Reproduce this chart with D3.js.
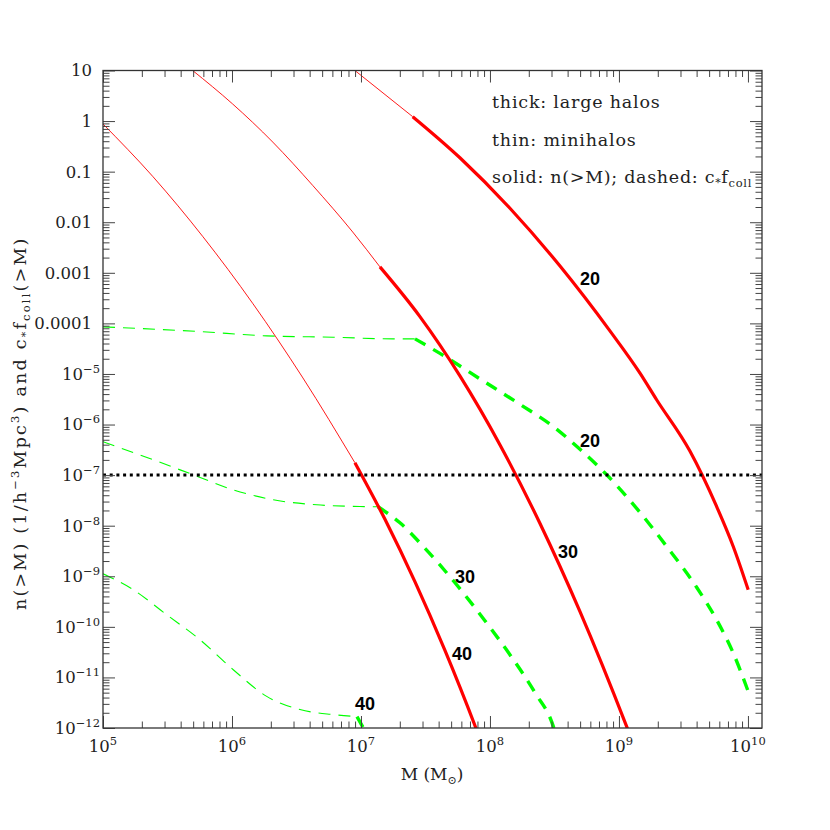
<!DOCTYPE html>
<html><head><meta charset="utf-8">
<script src="https://cdn.jsdelivr.net/npm/d3@7"></script>
<style>body{margin:0;background:#fff} svg{display:block}</style>
</head><body>
<svg id="c" width="830" height="830"></svg>
<script>
// ---- data: pairs of [log10 M (Msun), log10 value] ----
// n(>M): minihalos (thin) and large halos (thick)
const nMini20 = [[6.953,1.0],[7.401,0.087]];
const nLarge20 = [[7.401,0.087],[7.767,-0.725],[8.155,-1.723],[8.543,-2.866],[8.930,-4.148],[9.163,-4.984],[9.292,-5.510],[9.550,-6.525],[9.757,-7.620],[9.886,-8.411],[10.002,-9.267]];
const nMini30 = [[5.695,1.0],[6.005,0.338],[6.316,-0.415],[6.626,-1.273],[6.936,-2.194],[7.147,-2.883]];
const nLarge30 = [[7.147,-2.883],[7.457,-3.866],[7.767,-5.038],[8.078,-6.403],[8.388,-7.957],[8.698,-9.700],[9.060,-11.974],[9.07,-12.04]];
const nMini40 = [[5.000,-0.057],[5.388,-1.101],[5.775,-2.287],[6.163,-3.613],[6.550,-5.079],[6.953,-6.755]];
const nLarge40 = [[6.953,-6.755],[7.186,-7.874],[7.419,-9.111],[7.651,-10.466],[7.891,-12.0],[7.90,-12.06]];
// c* f_coll(>M)
const fMini20 = [[5.000,-4.069],[5.752,-4.162],[6.269,-4.247],[6.785,-4.273],[7.250,-4.306],[7.419,-4.306]];
const fLarge20 = [[7.419,-4.306],[7.612,-4.593],[7.922,-5.097],[8.233,-5.601],[8.491,-6.040],[8.698,-6.490],[8.905,-6.994],[9.137,-7.656],[9.370,-8.411],[9.602,-9.217],[9.757,-9.860],[9.886,-10.518],[10.002,-11.277]];
const fMini30 = [[5.000,-6.34],[5.390,-6.698],[5.700,-6.994],[6.010,-7.291],[6.320,-7.488],[6.657,-7.587],[6.992,-7.621],[7.132,-7.626]];
const fLarge30 = [[7.132,-7.626],[7.302,-7.943],[7.496,-8.447],[7.729,-9.128],[7.961,-9.879],[8.171,-10.610],[8.349,-11.302],[8.491,-11.968],[8.50,-12.04]];
const fMini40 = [[5.000,-8.951],[5.235,-9.267],[5.494,-9.761],[5.752,-10.255],[6.010,-10.848],[6.269,-11.375],[6.527,-11.636],[6.785,-11.735],[6.969,-11.775]];
const fLarge40 = [[6.969,-11.775],[7.019,-12.0],[7.03,-12.05]];
// horizontal reference level
const refLevel = 1e-7;
// curve labels: [text, log10 M, log10 value]
const labelsN = [["20",8.698,-3.239],["30",8.527,-8.634],["40",7.705,-10.650]];
const labelsF = [["20",8.698,-6.441],["30",7.729,-9.128],["40",6.953,-11.638]];
// ticks
const xTickExp = [5,6,7,8,9,10];
const yTickExp = [1,0,-1,-2,-3,-4,-5,-6,-7,-8,-9,-10,-11,-12];
const yDecimalLabels = {"1":"10","0":"1","-1":"0.1","-2":"0.01","-3":"0.001","-4":"0.0001"};
const legendLines = ["thick: large halos","thin: minihalos"];

// ---- layout ----
const L = 103, R = 762, T = 70.5, B = 728;
const svg = d3.select("#c");
const x = d3.scaleLog().domain([1e5, Math.pow(10,10.109)]).range([L, R]);
const y = d3.scaleLog().domain([1e-12, 10]).range([B, T]);

svg.append("defs").append("clipPath").attr("id","clip")
  .append("rect").attr("x",L).attr("y",T).attr("width",R-L).attr("height",B-T);

const line = d3.line().x(d => x(Math.pow(10,d[0]))).y(d => y(Math.pow(10,d[1]))).curve(d3.curveMonotoneX);
const g = svg.append("g").attr("clip-path","url(#clip)");

const RED = "#ff0000", GREEN = "#00ff00";
function draw(data, color, w, dash){
  const p = g.append("path").attr("d", line(data)).attr("fill","none")
    .attr("stroke", color).attr("stroke-width", w).attr("stroke-linejoin","round");
  if (dash) p.attr("stroke-dasharray", dash);
}
[fMini20,fMini30,fMini40].forEach(d => draw(d, GREEN, 1.1, "12,8"));
[fLarge20,fLarge30,fLarge40].forEach(d => draw(d, GREEN, 3.4, "12,9"));
[nMini20,nMini30,nMini40].forEach(d => draw(d, RED, 0.9, null));
[nLarge20,nLarge30,nLarge40].forEach(d => draw(d, RED, 3.2, null));

// dotted line
g.append("line").attr("x1", L).attr("x2", R).attr("y1", y(refLevel)).attr("y2", y(refLevel))
  .attr("stroke","#000").attr("stroke-width",3).attr("stroke-dasharray","3,3.7");

// ---- axes (ticks inward) ----
const xMajor = xTickExp.map(e => Math.pow(10,e));
const xMinor = [];
for (let e = 5; e <= 10; e++) for (let k = 2; k <= 9; k++){ const v = k*Math.pow(10,e); if (v <= x.domain()[1]) xMinor.push(v); }
const yMajor = yTickExp.map(e => Math.pow(10,e));
const yMinor = [];
for (let e = -12; e <= 0; e++) for (let k = 2; k <= 9; k++) yMinor.push(k*Math.pow(10,e));

function axisG(gen, tx, ty){
  const a = svg.append("g").attr("transform",`translate(${tx},${ty})`).call(gen);
  a.select(".domain").remove();
  a.selectAll("line").attr("stroke","#444").attr("stroke-width",1);
  a.selectAll("text").remove();
}
axisG(d3.axisBottom(x).tickValues(xMajor).tickSize(-12), 0, B);
axisG(d3.axisBottom(x).tickValues(xMinor).tickSize(-6.5), 0, B);
axisG(d3.axisTop(x).tickValues(xMajor).tickSize(-12), 0, T);
axisG(d3.axisTop(x).tickValues(xMinor).tickSize(-6.5), 0, T);
axisG(d3.axisLeft(y).tickValues(yMajor).tickSize(-12), L, 0);
axisG(d3.axisLeft(y).tickValues(yMinor).tickSize(-6.5), L, 0);
axisG(d3.axisRight(y).tickValues(yMajor).tickSize(-12), R, 0);
axisG(d3.axisRight(y).tickValues(yMinor).tickSize(-6.5), R, 0);

svg.append("rect").attr("x",L).attr("y",T).attr("width",R-L).attr("height",B-T)
  .attr("fill","none").attr("stroke","#333").attr("stroke-width",1.3);

const SERIF = "'DejaVu Serif', serif";
// x tick labels
xTickExp.forEach(e => {
  const t = svg.append("text").attr("x", x(Math.pow(10,e))).attr("y", 752)
    .attr("text-anchor","middle").attr("font-family",SERIF).attr("font-size",16.5).attr("fill","#222");
  t.append("tspan").text("10");
  t.append("tspan").attr("dy",-7).attr("font-size",11.5).text(String(e));
});
// y tick labels
yTickExp.forEach(e => {
  const yy = y(Math.pow(10,e));
  if (yDecimalLabels[String(e)] !== undefined){
    svg.append("text").attr("x", 92).attr("y", yy).attr("dy","0.36em")
      .attr("text-anchor","end").attr("font-family",SERIF).attr("font-size",16.5).attr("fill","#222")
      .text(yDecimalLabels[String(e)]);
  } else {
    const t = svg.append("text").attr("x", 100).attr("y", yy).attr("dy","0.36em")
      .attr("text-anchor","end").attr("font-family",SERIF).attr("font-size",16.5).attr("fill","#222");
    t.append("tspan").text("10");
    t.append("tspan").attr("dy",-7).attr("font-size",11.5).text("\u2212" + String(-e));
  }
});

// axis titles
const xt = svg.append("text").attr("x", 432).attr("y", 780).attr("text-anchor","middle")
  .attr("font-family",SERIF).attr("font-size",17).attr("fill","#222");
xt.append("tspan").text("M (M");
xt.append("tspan").attr("dy",4).attr("font-size",11).text("\u2299");
xt.append("tspan").attr("dy",-4).text(")");

const yt = svg.append("text").attr("transform","translate(26,610) rotate(-90)").attr("text-anchor","start")
  .attr("font-family",SERIF).attr("font-size",17.5).attr("letter-spacing",2.2).attr("fill","#222");
yt.append("tspan").text("n(>M) (1/h");
yt.append("tspan").attr("dy",-7).attr("font-size",11.5).text("\u22123");
yt.append("tspan").attr("dy",7).text("Mpc");
yt.append("tspan").attr("dy",-7).attr("font-size",11.5).text("3");
yt.append("tspan").attr("dy",7).text(") and c");
yt.append("tspan").attr("dy",3).attr("font-size",11).text("*");
yt.append("tspan").attr("dy",-3).text("f");
yt.append("tspan").attr("dy",4).attr("font-size",11.5).text("coll");
yt.append("tspan").attr("dy",-4).text("(>M)");

// legend
const legendY = [108, 145.5, 183];
legendLines.forEach((s,i) => {
  svg.append("text").attr("x",492).attr("y",legendY[i]).attr("font-family",SERIF)
    .attr("font-size",17.5).attr("letter-spacing",0.8).attr("fill","#222").text(s);
});
const lg = svg.append("text").attr("x",492).attr("y",legendY[2]).attr("font-family",SERIF)
  .attr("font-size",17.5).attr("letter-spacing",0.7).attr("fill","#222");
lg.append("tspan").text("solid: n(>M); dashed: c");
lg.append("tspan").attr("dy",3).attr("font-size",11).text("*");
lg.append("tspan").attr("dy",-3).text("f");
lg.append("tspan").attr("dy",4).attr("font-size",11.5).text("coll");

// curve labels
labelsN.concat(labelsF).forEach(d => {
  svg.append("text").attr("x", x(Math.pow(10,d[1]))).attr("y", y(Math.pow(10,d[2])))
    .attr("font-family","'Liberation Sans', Arial, sans-serif").attr("font-weight","bold")
    .attr("font-size",18).attr("fill","#000").text(d[0]);
});
</script>
</body></html>
